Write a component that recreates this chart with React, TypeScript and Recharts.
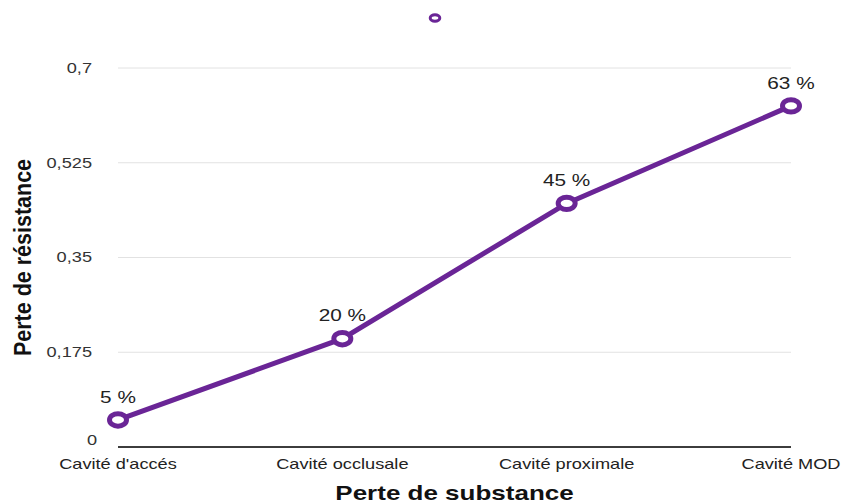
import React from 'react';
import { LineChart, Line, XAxis, YAxis, CartesianGrid, Legend, LabelList } from 'recharts';

const categories = ["Cavité d'accés", 'Cavité occlusale', 'Cavité proximale', 'Cavité MOD'];
const resistanceLoss = [0.05, 0.2, 0.45, 0.63];
const pointLabels = ['5 %', '20 %', '45 %', '63 %'];
const yTicks = [0, 0.175, 0.35, 0.525, 0.7];
const yTickLabels = ['0', '0,175', '0,35', '0,525', '0,7'];
const xTitle = 'Perte de substance';
const yTitle = 'Perte de résistance';

const data = categories.map((c, i) => ({ name: c, value: resistanceLoss[i], label: pointLabels[i] }));

const PURPLE = '#6a2596';
const FONT = '"Liberation Sans", Arial, Helvetica, sans-serif';
const SX = 1.3;

const YTick = (props: any) => {
  const { x, y, payload } = props;
  const idx = yTicks.indexOf(payload.value);
  const label = idx >= 0 ? yTickLabels[idx] : String(payload.value);
  const isZero = payload.value === 0;
  return (
    <text
      transform={`translate(${x + (isZero ? 5 : 0)},${y + (isZero ? -7 : 0)}) scale(${SX},1)`}
      textAnchor="end"
      dy="0.35em"
      fontSize={14}
      fill="#333"
      fontFamily={FONT}
    >
      {label}
    </text>
  );
};

const XTick = (props: any) => {
  const { x, y, payload } = props;
  return (
    <text
      transform={`translate(${x},${y}) scale(${SX},1)`}
      textAnchor="middle"
      dy="0.35em"
      fontSize={14}
      fill="#222"
      fontFamily={FONT}
    >
      {payload.value}
    </text>
  );
};

const PointLabel = (props: any) => {
  const { x, y, value } = props;
  return (
    <text
      transform={`translate(${x},${y - 23}) scale(${SX},1)`}
      textAnchor="middle"
      dy="0.35em"
      fontSize={16}
      fill="#222"
      fontFamily={FONT}
    >
      {value}
    </text>
  );
};

const Dot = (props: any) => {
  const { cx, cy, index } = props;
  return <ellipse key={`dot-${index}`} cx={cx} cy={cy} rx={8.5} ry={6.2} fill="#fff" stroke={PURPLE} strokeWidth={5} />;
};

const YTitle = (props: any) => {
  const vb = props.viewBox || { x: 0, y: 68, width: 118, height: 379 };
  const cx = vb.x + 23;
  const cy = vb.y + vb.height / 2;
  return (
    <text
      transform={`translate(${cx},${cy}) scale(1.1,1) rotate(-90)`}
      textAnchor="middle"
      dy="0.35em"
      fontSize={21.5}
      fontWeight="bold"
      fill="#111"
      fontFamily={FONT}
    >
      {yTitle}
    </text>
  );
};

const XTitle = (props: any) => {
  const vb = props.viewBox || { x: 118, y: 447, width: 673, height: 57 };
  const cx = vb.x + vb.width / 2;
  const cy = vb.y + 46;
  return (
    <text
      transform={`translate(${cx},${cy}) scale(${SX},1)`}
      textAnchor="middle"
      dy="0.35em"
      fontSize={20}
      fontWeight="bold"
      fill="#111"
      fontFamily={FONT}
    >
      {xTitle}
    </text>
  );
};

const LegendContent = () => (
  <div style={{ height: 20, width: 844, position: 'relative' }}>
    <svg width={844} height={20} style={{ display: 'block' }}>
      <ellipse cx={435} cy={10} rx={4.8} ry={3.2} fill="#fff" stroke={PURPLE} strokeWidth={3} />
    </svg>
  </div>
);

export default function App() {
  return (
    <div style={{ position: 'absolute', left: 0, top: 0, background: '#fff' }}>
      <LineChart width={844} height={504} data={data} margin={{ top: 48, right: 53, left: 0, bottom: 0 }}>
        <Legend verticalAlign="top" content={LegendContent} wrapperStyle={{ top: 8, left: 0, width: 844, height: 20 }} />
        <CartesianGrid vertical={false} stroke="#e2e2e2" strokeWidth={1} />
        <XAxis
          dataKey="name"
          axisLine={{ stroke: '#000', strokeWidth: 1.5 }}
          tickLine={false}
          tickSize={0}
          tickMargin={17}
          tick={XTick}
          interval={0}
          height={57}
          label={XTitle}
        />
        <YAxis
          domain={[0, 0.7]}
          ticks={yTicks}
          axisLine={false}
          tickLine={false}
          tickSize={0}
          tickMargin={26}
          width={118}
          tick={YTick}
          label={YTitle}
        />
        <Line
          type="linear"
          dataKey="value"
          stroke={PURPLE}
          strokeWidth={5}
          dot={Dot}
          activeDot={false}
          isAnimationActive={false}
        >
          <LabelList dataKey="label" content={PointLabel} />
        </Line>
      </LineChart>
    </div>
  );
}
